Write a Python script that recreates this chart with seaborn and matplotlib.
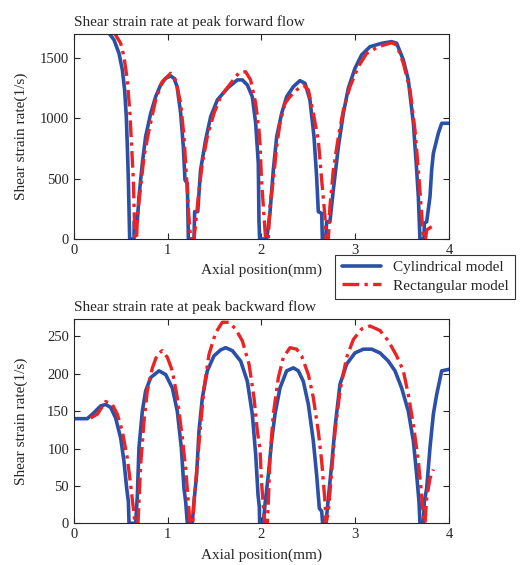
import numpy as np
import pandas as pd
import matplotlib
matplotlib.use('Agg')
import matplotlib.pyplot as plt
import seaborn as sns

# Peak forward flow
fwd_cyl_x = [0.35, 0.427, 0.48, 0.516, 0.54, 0.558, 0.569, 0.58, 0.587, 0.594, 0.64, 0.642, 0.675,
             0.693, 0.729, 0.764, 0.818, 0.871, 0.924, 0.978, 1.031, 1.067, 1.1, 1.138, 1.166, 1.184,
             1.209, 1.22, 1.28, 1.287, 1.32, 1.35, 1.404, 1.458, 1.529, 1.636, 1.742, 1.796, 1.849,
             1.902, 1.938, 1.966, 1.973, 1.98, 2.055, 2.09, 2.126, 2.162, 2.215, 2.268, 2.34, 2.41,
             2.464, 2.517, 2.56, 2.588, 2.606, 2.642, 2.649, 2.684, 2.695, 2.73, 2.766, 2.82, 2.873,
             2.926, 2.997, 3.068, 3.157, 3.282, 3.388, 3.442, 3.513, 3.566, 3.62, 3.655, 3.673, 3.69,
             3.733, 3.737, 3.762, 3.797, 3.815, 3.833, 3.886, 3.922, 4.0]
fwd_cyl_y = [1730, 1648, 1537, 1399, 1234, 1013, 765, 488, 240, 0, 0, 143, 143,
             350, 627, 847, 1040, 1178, 1275, 1330, 1350, 1330, 1261, 1040, 765, 488,
             461, 0, 0, 226, 226, 571, 820, 1013, 1151, 1248, 1317, 1317, 1275,
             1178, 958, 627, 157, 0, 0, 212, 571, 847, 1040, 1178, 1261, 1311,
             1289, 1151, 847, 516, 226, 212, 0, 0, 143, 143, 405, 765, 1040,
             1248, 1413, 1524, 1592, 1620, 1634, 1620, 1482, 1317, 958, 571, 350, 0,
             0, 130, 143, 350, 571, 709, 875, 958, 958]
fwd_rect_x = [0.42, 0.498, 0.533, 0.569, 0.597, 0.615, 0.633, 0.64, 0.65, 0.668, 0.676, 0.711, 0.747,
              0.8, 0.871, 0.942, 1.031, 1.084, 1.138, 1.173, 1.2, 1.22, 1.237, 1.244, 1.28, 1.298,
              1.333, 1.369, 1.422, 1.493, 1.564, 1.671, 1.76, 1.83, 1.884, 1.938, 1.973, 1.984, 2.0,
              2.02, 2.037, 2.044, 2.073, 2.09, 2.126, 2.162, 2.197, 2.25, 2.304, 2.375, 2.446, 2.5,
              2.553, 2.606, 2.642, 2.677, 2.688, 2.713, 2.73, 2.766, 2.82, 2.873, 2.944, 3.033, 3.122,
              3.246, 3.388, 3.442, 3.513, 3.584, 3.637, 3.673, 3.708, 3.726, 3.75, 3.762, 3.815]
fwd_rect_y = [1720, 1620, 1510, 1316, 1040, 765, 488, 295, 0, 0, 185, 433, 682,
              902, 1151, 1303, 1372, 1316, 1123, 847, 516, 240, 75, 0, 0, 130,
              405, 627, 847, 1040, 1178, 1289, 1377, 1385, 1317, 1123, 902, 792, 488,
              268, 75, 0, 0, 268, 488, 765, 958, 1123, 1178, 1234, 1275, 1234,
              1040, 820, 488, 185, 0, 0, 268, 571, 847, 1068, 1261, 1427, 1537,
              1592, 1625, 1606, 1455, 1234, 902, 571, 212, 0, 0, 75, 102]

# Peak backward flow
bwd_cyl_x = [0.0, 0.142, 0.213, 0.284, 0.338, 0.391, 0.444, 0.498, 0.533, 0.562, 0.58, 0.587, 0.658,
             0.676, 0.693, 0.729, 0.764, 0.818, 0.907, 0.978, 1.049, 1.102, 1.145, 1.173, 1.191, 1.209,
             1.262, 1.28, 1.308, 1.333, 1.369, 1.422, 1.493, 1.564, 1.618, 1.689, 1.778, 1.849, 1.902,
             1.938, 1.963, 1.977, 1.98, 2.02, 2.037, 2.073, 2.108, 2.144, 2.197, 2.268, 2.34, 2.393,
             2.446, 2.5, 2.553, 2.588, 2.617, 2.642, 2.652, 2.688, 2.713, 2.748, 2.784, 2.837, 2.908,
             2.997, 3.086, 3.175, 3.264, 3.353, 3.424, 3.495, 3.566, 3.62, 3.655, 3.68, 3.69, 3.726,
             3.737, 3.762, 3.797, 3.833, 3.868, 3.922, 4.0]
bwd_cyl_y = [140, 140, 148, 157, 159, 155, 141, 114, 83, 47, 29, 0, 0,
             38, 101, 150, 177, 195, 204, 199, 181, 150, 101, 47, 29, 0,
             0, 29, 65, 123, 168, 204, 224, 232, 235, 231, 217, 190, 146,
             92, 38, 22, 0, 0, 25, 65, 110, 146, 181, 204, 208, 204,
             190, 159, 110, 65, 20, 16, 0, 0, 34, 78, 128, 186, 213,
             228, 233, 233, 228, 217, 204, 181, 150, 110, 65, 29, 0, 0,
             29, 47, 101, 146, 172, 204, 206]
bwd_rect_x = [0.178, 0.249, 0.338, 0.409, 0.462, 0.516, 0.569, 0.604, 0.633, 0.65, 0.683, 0.693, 0.711,
              0.747, 0.782, 0.836, 0.889, 0.942, 0.996, 1.049, 1.102, 1.156, 1.191, 1.216, 1.237, 1.266,
              1.28, 1.308, 1.344, 1.387, 1.44, 1.511, 1.582, 1.653, 1.724, 1.796, 1.867, 1.92, 1.956,
              1.984, 2.0, 2.027, 2.037, 2.062, 2.073, 2.09, 2.126, 2.18, 2.233, 2.304, 2.375, 2.428,
              2.5, 2.553, 2.606, 2.642, 2.677, 2.688, 2.713, 2.748, 2.784, 2.837, 2.908, 2.98, 3.068,
              3.157, 3.264, 3.353, 3.442, 3.513, 3.566, 3.62, 3.673, 3.708, 3.726, 3.744, 3.762, 3.797,
              3.833]
bwd_rect_y = [141, 146, 163, 159, 146, 123, 87, 52, 20, 0, 0, 29, 78,
              137, 177, 208, 226, 231, 222, 204, 168, 114, 74, 34, 0, 0,
              29, 69, 123, 181, 226, 255, 269, 269, 260, 244, 213, 168, 123,
              100, 56, 11, 0, 0, 29, 87, 146, 195, 222, 235, 233, 224,
              199, 168, 123, 83, 29, 0, 16, 69, 123, 177, 222, 246, 260,
              264, 258, 244, 224, 204, 172, 132, 83, 38, 11, 0, 34, 60,
              72]

titles = ['Shear strain rate at peak forward flow', 'Shear strain rate at peak backward flow']
labels = ['Cylindrical model', 'Rectangular model']
blue = '#2b50a8'
red = '#ee2222'

sns.set_style('ticks')
plt.rcParams['font.family'] = ['Liberation Serif', 'DejaVu Serif']
plt.rcParams['font.size'] = 10.5

fig = plt.figure(figsize=(5.27, 5.65), dpi=100)
ax1 = fig.add_axes([0.1404, 0.577, 0.7116, 0.3628])
ax2 = fig.add_axes([0.1404, 0.0738, 0.7116, 0.3611])

panels = [
    (ax1, fwd_cyl_x, fwd_cyl_y, fwd_rect_x, fwd_rect_y, (0, 1697), [0, 500, 1000, 1500]),
    (ax2, bwd_cyl_x, bwd_cyl_y, bwd_rect_x, bwd_rect_y, (0, 273), [0, 50, 100, 150, 200, 250]),
]

for i, (ax, cx, cy, rx, ry, ylim, yt) in enumerate(panels):
    sns.lineplot(x=cx, y=cy, ax=ax, color=blue, linewidth=2.6, sort=False, estimator=None,
                 label=labels[0])
    sns.lineplot(x=rx, y=ry, ax=ax, color=red, linewidth=2.4, sort=False, estimator=None,
                 label=labels[1])
    ax.lines[-1].set_dashes([5, 1.6, 1, 1.6])
    ax.set_xlim(0, 4)
    ax.set_ylim(*ylim)
    ax.set_xticks([0, 1, 2, 3, 4])
    ax.set_yticks(yt)
    ax.tick_params(direction='in', top=True, right=True, length=4, width=0.8, labelsize=10.5)
    for s in ax.spines.values():
        s.set_visible(True)
        s.set_linewidth(0.8)
    ax.set_xlabel('Axial position(mm)', fontsize=11, labelpad=5)
    ax.set_ylabel('Shear strain rate(1/s)', fontsize=11)
    ax.yaxis.set_label_coords(-0.123, 0.5)
    ax.set_title(titles[i], loc='left', fontsize=11, pad=6)
    ax.get_legend().remove()

handles, labs = ax1.get_legend_handles_labels()
leg = fig.legend(handles, labs, loc='upper left', bbox_to_anchor=(0.622, 0.563),
                 frameon=True, fancybox=False, edgecolor='black', fontsize=11,
                 handlelength=2.6, borderpad=0.4, labelspacing=0.3)
leg.get_frame().set_linewidth(0.8)

fig.savefig('out.png', dpi=100)
